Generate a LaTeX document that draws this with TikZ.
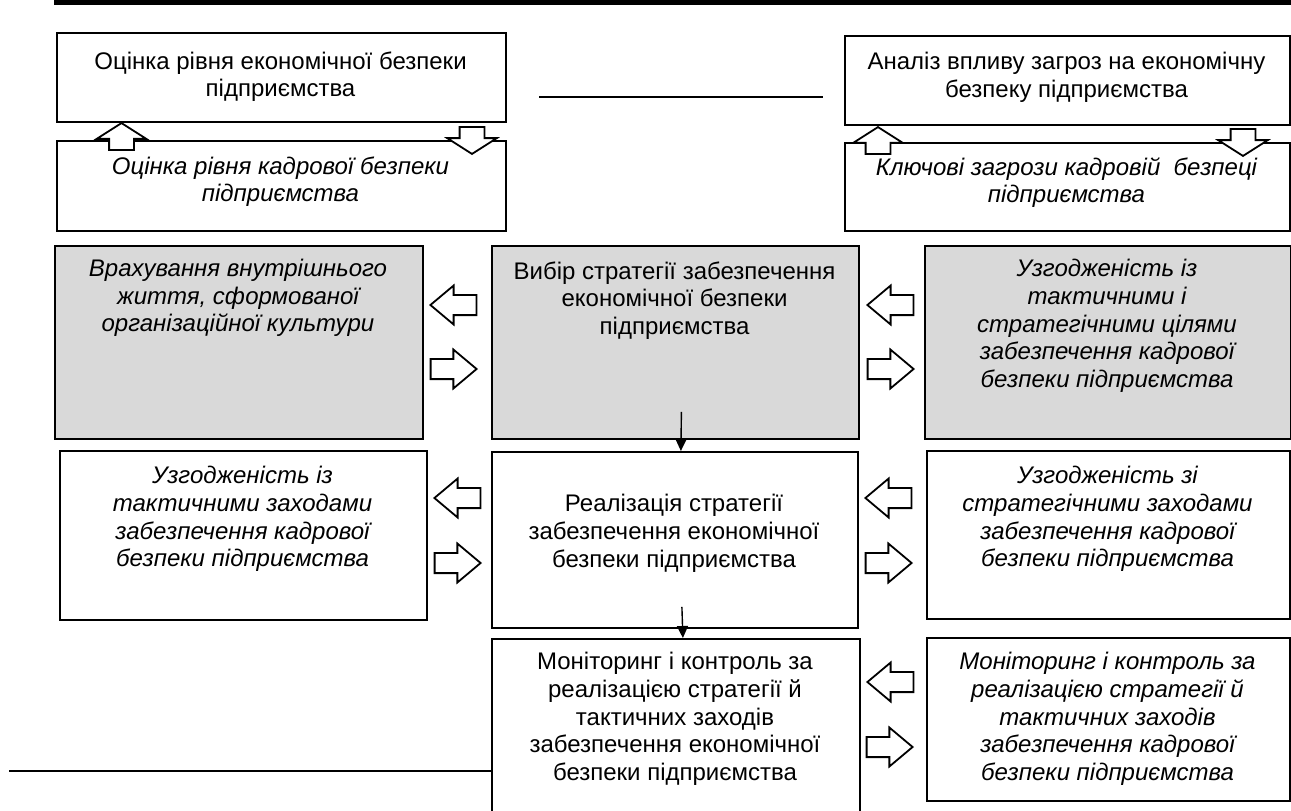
\documentclass[tikz,border=0pt]{standalone}
\usepackage{fontspec}
\setmainfont{Liberation Sans}
\usepackage{tikz}
\usetikzlibrary{shapes.arrows,arrows.meta}
\definecolor{boxgray}{RGB}{217,217,217}

\begin{document}
\begin{tikzpicture}[x=0.5pt,y=-0.5pt,
    box/.style={draw, line width=0.9pt, anchor=north west, inner sep=0pt},
    graybox/.style={box, fill=boxgray},
    txt/.style={anchor=north, align=center, inner sep=0pt, font=\fontsize{12}{13.8}\selectfont},
    itxt/.style={txt, font=\fontsize{12}{13.8}\selectfont\itshape},
    hblock/.style={single arrow, draw, fill=white, line width=0.9pt, inner xsep=0pt, inner ysep=4.6pt, anchor=tip,
        minimum height=23pt, single arrow head extend=4.7pt, single arrow tip angle=80},
    vblock/.style={hblock, inner ysep=5.75pt, minimum height=13.5pt, single arrow head extend=6.2pt, single arrow tip angle=115},
    link/.style={line width=0.7pt, -{Triangle[width=5.5pt,length=6pt]}}]
    \useasboundingbox (0,0) rectangle (1291,810);
    \clip (0,0) rectangle (1291,810);
		  \fill (54,0) rectangle (1291,5);
		  % upper row
                  \node[box, minimum width=224.5pt, minimum height=44.5pt] (ocEk) at (56,32) {};
                  \node[txt] (ocEkT) at (280.5,51) {Оцінка рівня економічної безпеки\\підприємства};
                  \node[box, minimum width=224.5pt, minimum height=45pt] (ocKad) at (56,140) {};
                  \node[itxt] (ocKadT) at (280.5,156) {Оцінка рівня кадрової безпеки\\підприємства};
                  \node[box, minimum width=222.5pt, minimum height=44.5pt] (anZag) at (844,35) {};
                  \node[txt] (anZagT) at (1066.5,52) {Аналіз впливу загроз на економічну\\безпеку підприємства};
                  \node[box, minimum width=222.5pt, minimum height=44pt] (klZag) at (844,142) {};
                  \node[itxt] (klZagT) at (1066.5,157) {Ключові загрози кадровій\ \ безпеці\\підприємства};
                  \coordinate (topL) at (539,97);
                  \coordinate (topR) at (823,97);
                  \draw[line width=0.7pt] (topL) -- (topR);
		  % strategy choice
                  \node[graybox, minimum width=184pt, minimum height=96.5pt] (vrakh) at (54,245) {};
                  \node[itxt] (vrakhT) at (238,259) {Врахування внутрішнього\\життя, сформованої\\організаційної культури};
                  \node[graybox, minimum width=183.5pt, minimum height=96.5pt] (vybir) at (491,245) {};
                  \node[txt] (vybirT) at (674.5,261) {Вибір стратегії забезпечення\\економічної безпеки\\підприємства};
                  \node[graybox, minimum width=183pt, minimum height=96.5pt] (tsili) at (924,245) {};
                  \node[itxt] (tsiliT) at (1107,259) {Узгодженість із\\тактичними і\\стратегічними цілями\\забезпечення кадрової\\безпеки підприємства};
		  % realisation
                  \node[box, minimum width=183.5pt, minimum height=84.5pt] (taktZ) at (59,450) {};
                  \node[itxt] (taktZT) at (242.5,466) {Узгодженість із\\тактичними заходами\\забезпечення кадрової\\безпеки підприємства};
                  \node[box, minimum width=183pt, minimum height=88pt] (real) at (491,451) {};
                  \node[txt] (realT) at (674,494) {Реалізація стратегії\\забезпечення економічної\\безпеки підприємства};
                  \node[box, minimum width=181.5pt, minimum height=84pt] (stratZ) at (926,450) {};
                  \node[itxt] (stratZT) at (1107.5,466) {Узгодженість зі\\стратегічними заходами\\забезпечення кадрової\\безпеки підприємства};
		  % monitoring
                  \node[box, minimum width=184pt, minimum height=100pt] (monEk) at (491,638) {};
                  \node[txt] (monEkT) at (675,652) {Моніторинг і контроль за\\реалізацією стратегії й\\тактичних заходів\\забезпечення економічної\\безпеки підприємства};
                  \node[box, minimum width=181.5pt, minimum height=81.5pt] (monKad) at (926,637) {};
                  \node[itxt] (monKadT) at (1107.5,652) {Моніторинг і контроль за\\реалізацією стратегії й\\тактичних заходів\\забезпечення кадрової\\безпеки підприємства};
                  \coordinate (botL) at (9,771);
                  \draw[line width=0.7pt] (botL) -- (botL -| monEk.west);
		  % links
                  \draw[link] ([xshift=3pt,yshift=14pt]vybir.south) -- ([xshift=3pt]real.north);
                  \draw[link] ([xshift=3.5pt,yshift=11pt]real.south) -- ([xshift=3.5pt]monEk.north);
		  % block arrows
                  \node[vblock, rotate=90] (upL) at (121.5,122) {};
                  \node[vblock, rotate=-90] (downL) at (472,155) {};
                  \node[vblock, rotate=90] (upR) at (878,126) {};
                  \node[vblock, rotate=-90] (downR) at (1243,157) {};
                  \node[hblock, rotate=180] (arL1) at (429,305) {};
                  \node[hblock] (arL2) at (478,369) {};
                  \node[hblock, rotate=180] (arL3) at (433,498) {};
                  \node[hblock] (arL4) at (482,563) {};
                  \node[hblock, rotate=180] (arR1) at (866,305) {};
                  \node[hblock] (arR2) at (915,369) {};
                  \node[hblock, rotate=180] (arR3) at (864,498) {};
                  \node[hblock] (arR4) at (913,563) {};
                  \node[hblock, rotate=180] (arR5) at (866,682) {};
                  \node[hblock] (arR6) at (914,747) {};
		\end{tikzpicture}
\end{document}
